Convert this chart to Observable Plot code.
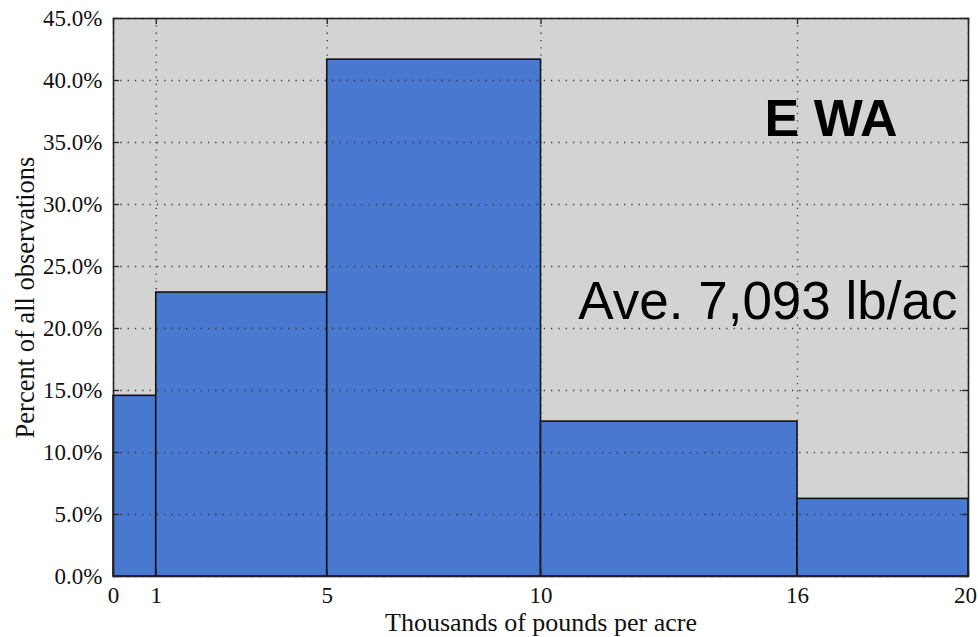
<!DOCTYPE html>
<html><head><meta charset="utf-8">
<script src="https://cdn.jsdelivr.net/npm/d3@7"></script>
<script src="https://cdn.jsdelivr.net/npm/@observablehq/plot@0.6"></script>
<style>body{margin:0;background:#fff}</style>
</head><body><div id="chart"></div>
<script>
const binStart = [0, 1, 5, 10, 16];
const binEnd = [1, 5, 10, 16, 20];
const percent = [14.57, 22.9, 41.68, 12.49, 6.26];
const xTicks = [0, 1, 5, 10, 16, 20];
const yTicks = [0, 5, 10, 15, 20, 25, 30, 35, 40, 45];
const xLabel = "Thousands of pounds per acre";
const yLabel = "Percent of all observations";
const regionTitle = "E WA";
const averageNote = "Ave. 7,093 lb/ac";

const bins = binStart.map((s, i) => ({x1: s, x2: binEnd[i], y: percent[i]}));
const serif = "'Liberation Serif', 'DejaVu Serif', serif";
const sans = "'Liberation Sans', Arial, sans-serif";
const dots = {stroke: "#3a3a3a", strokeOpacity: 1, strokeWidth: 1.3, strokeDasharray: "1.3,6"};
const xMax = xTicks[xTicks.length - 1];

const chart = Plot.plot({
  width: 978, height: 637,
  marginLeft: 113, marginRight: 10, marginTop: 18, marginBottom: 61,
  style: {fontFamily: serif, fontSize: "23px", background: "#fff", color: "#111"},
  x: {domain: [0, 20]},
  y: {domain: [0, 45]},
  marks: [
    Plot.frame({fill: "#d3d3d3", stroke: null}),
    Plot.rectY(bins, {x1: "x1", x2: "x2", y: "y", fill: "#4878cf", stroke: "#111", strokeWidth: 1.6}),
    Plot.gridX(xTicks, dots),
    Plot.gridY(yTicks, dots),
    Plot.ruleY(yTicks, {x1: 0, x2: 0.14, stroke: "#222", strokeWidth: 1.3}),
    Plot.ruleY(yTicks, {x1: 19.86, x2: 20, stroke: "#222", strokeWidth: 1.3}),
    Plot.ruleX(xTicks, {y1: 0, y2: 0.48, stroke: "#222", strokeWidth: 1.3}),
    Plot.ruleX(xTicks, {y1: 44.52, y2: 45, stroke: "#222", strokeWidth: 1.3}),
    Plot.axisX(xTicks.filter(d => d < xMax), {tickSize: 0, tickPadding: 10, label: null, fontSize: 23}),
    Plot.axisX(xTicks.filter(d => d === xMax), {tickSize: 0, tickPadding: 10, label: null, fontSize: 23, dx: -3}),
    Plot.axisY(yTicks, {tickSize: 0, tickPadding: 11, label: null, fontSize: 23, tickFormat: d => d.toFixed(1) + "%"}),
    Plot.frame({stroke: "#222", strokeWidth: 1.6}),
    Plot.text([xLabel], {frameAnchor: "bottom", dy: 54, textAnchor: "middle", lineAnchor: "bottom", fontSize: 26, fontFamily: serif, fill: "#111"}),
    Plot.text([yLabel], {frameAnchor: "left", dx: -80, rotate: -90, textAnchor: "middle", lineAnchor: "bottom", fontSize: 26.5, fontFamily: serif, fill: "#111"}),
    Plot.text([regionTitle], {frameAnchor: "top-right", dx: -71, dy: 117, textAnchor: "end", lineAnchor: "bottom", fontSize: 52, fontWeight: "bold", fontFamily: sans, fill: "#000"}),
    Plot.text([averageNote], {frameAnchor: "top-right", dx: -11, dy: 300, textAnchor: "end", lineAnchor: "bottom", fontSize: 53, fontFamily: sans, fill: "#000"})
  ]
});
document.getElementById("chart").appendChild(chart);
</script>
</body></html>
